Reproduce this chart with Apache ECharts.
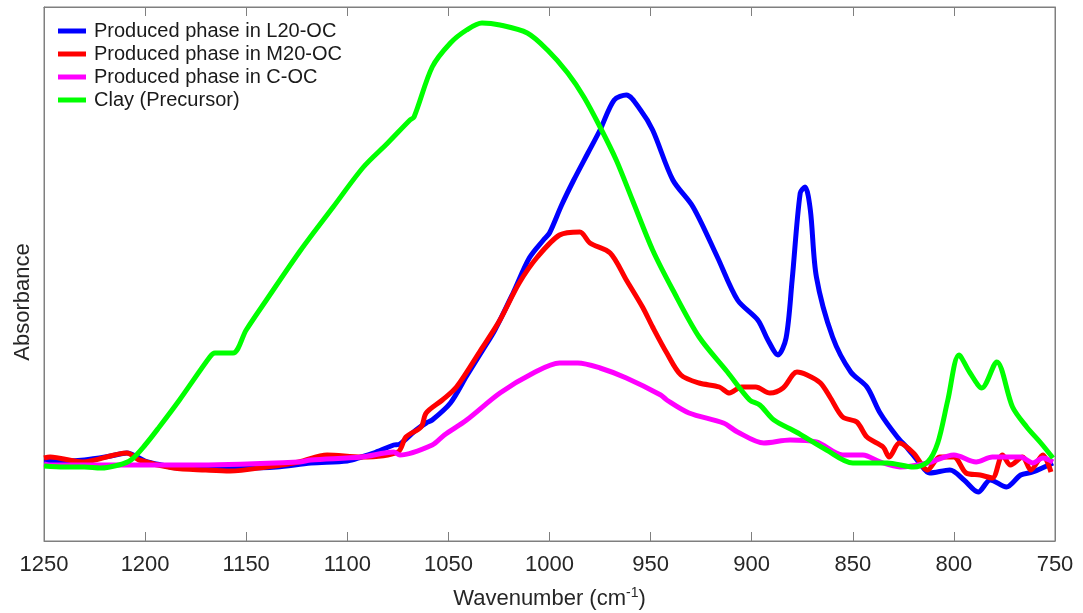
<!DOCTYPE html>
<html>
<head>
<meta charset="utf-8">
<script src="https://cdn.jsdelivr.net/npm/echarts@6/dist/echarts.min.js"></script>
<style>
html,body{margin:0;padding:0;background:#fff;}
#chart{width:1083px;height:613px;}
</style>
</head>
<body>
<div id="chart"></div>
<script>
// ---- data (wavenumber in cm^-1, absorbance in arbitrary units) ----
const seriesNames = ['Produced phase in L20-OC', 'Produced phase in M20-OC', 'Produced phase in C-OC', 'Clay (Precursor)'];
const seriesColors = ['#0000ff', '#ff0000', '#ff00ff', '#00ff00'];

const l20Wn  = [1250,1240,1230,1217,1209,1200,1192,1184,1170,1151,1135,1118,1100,1093,1087,1077,1074,1066,1061,1058,1049,1041,1033,1027,1018,1010,1003,1000,994,988,981,975,968,962,955,949,939,929,917,907,897,892,887,883,880,876,873.6,871,868,860,851,843,836.5,828,823,817,812,802,795,788,782,774,767,761,751];
const l20Abs = [0.80,0.80,0.81,0.85,0.88,0.80,0.76,0.73,0.74,0.73,0.74,0.78,0.80,0.84,0.88,0.96,0.97,1.11,1.18,1.21,1.38,1.65,1.91,2.11,2.48,2.83,3.01,3.08,3.36,3.61,3.88,4.11,4.41,4.46,4.31,4.11,3.61,3.34,2.84,2.41,2.21,2.01,1.86,2.03,2.61,3.48,3.54,3.31,2.64,2.04,1.69,1.54,1.28,1.04,0.93,0.78,0.68,0.71,0.61,0.49,0.61,0.54,0.66,0.69,0.78];

const m20Wn  = [1250,1247,1231,1209,1203,1186,1170,1158,1140,1124,1110,1093,1075,1071,1063.5,1061,1053,1046,1034,1024.5,1015,1006,995,985,980,970,962,954,949,942,935,926,916,911,905,898,891,884.5,877.6,872.6,866,861,855,848,843,835,832,827,820,813,807,800,794,787,781,776,772,766,762,756,752];
const m20Abs = [0.83,0.84,0.79,0.88,0.81,0.73,0.71,0.70,0.74,0.79,0.86,0.84,0.89,1.04,1.14,1.28,1.41,1.54,1.91,2.21,2.58,2.84,3.06,3.09,2.98,2.88,2.61,2.34,2.14,1.88,1.66,1.58,1.54,1.48,1.54,1.54,1.48,1.53,1.69,1.66,1.58,1.43,1.24,1.19,1.04,0.94,0.84,0.98,0.88,0.71,0.84,0.84,0.68,0.66,0.63,0.86,0.76,0.84,0.71,0.86,0.69];

const cocWn  = [1250,1247,1222,1206,1173,1124,1118,1093,1077,1074,1058,1052,1041,1024.5,1008,995,986,975,962,945,942,931,914,907,894,881,868,855,845,836.5,826.6,813,800,789,781,767,761,756,751];
const cocAbs = [0.77,0.76,0.76,0.76,0.76,0.79,0.81,0.84,0.89,0.86,0.96,1.06,1.21,1.48,1.68,1.78,1.78,1.73,1.63,1.46,1.41,1.28,1.18,1.09,0.98,1.01,0.99,0.86,0.86,0.79,0.74,0.78,0.86,0.79,0.84,0.84,0.78,0.83,0.79];

const clayWn  = [1250,1240,1230,1222,1213,1207,1200,1193,1183,1168,1165.5,1156.5,1150,1140,1123,1107,1092,1080,1069,1067,1058,1049,1041,1033.4,1024.5,1011,1001,991,983,975,967,959,949,939,926,912,901,896,889,878,863,850,833,820,813,808,803,797.5,792,786.2,778.8,771,764,757,751];
const clayAbs = [0.75,0.74,0.74,0.73,0.76,0.81,0.96,1.14,1.41,1.84,1.88,1.88,2.11,2.41,2.91,3.34,3.74,3.98,4.21,4.24,4.74,4.98,5.11,5.18,5.16,5.08,4.91,4.68,4.44,4.14,3.81,3.41,2.91,2.51,2.04,1.69,1.41,1.36,1.21,1.09,0.91,0.78,0.78,0.74,0.79,0.98,1.41,1.86,1.68,1.53,1.79,1.34,1.14,0.98,0.83];

const xTicks = [1250,1200,1150,1100,1050,1000,950,900,850,800,750];

// ---- build ----
function pairs(wn, ab){ return wn.map((w,i)=>[w, ab[i]]); }
const allData = [pairs(l20Wn,l20Abs), pairs(m20Wn,m20Abs), pairs(cocWn,cocAbs), pairs(clayWn,clayAbs)];

const FONT = 'Liberation Sans, Arial, sans-serif';
const chart = echarts.init(document.getElementById('chart'), null, {renderer:'canvas'});
const frame = '#7f7f7f';

const xCommon = {
  type:'value', min:750, max:1250, interval:50, inverse:true,
  axisLine:{show:true, onZero:false, lineStyle:{color:frame, width:1}},
  axisTick:{show:true, inside:true, length:9, lineStyle:{color:frame, width:1}},
  splitLine:{show:false}
};

chart.setOption({
  animation:false,
  backgroundColor:'#ffffff',
  grid:{left:44, right:28, top:7, bottom:72, show:true, borderColor:frame, borderWidth:1,
        containLabel:false, outerBoundsMode:'none'},
  legend:{
    show:true, orient:'vertical', left:58, top:21, padding:0, itemGap:3,
    itemWidth:28, itemHeight:5, icon:'rect',
    textStyle:{fontFamily:FONT, fontSize:20, color:'#1a1a1a', padding:[0,0,0,3]},
    data:seriesNames
  },
  xAxis:[
    Object.assign({}, xCommon, {
      position:'bottom',
      axisLabel:{show:true, margin:13, fontFamily:FONT, fontSize:22, color:'#262626',
        formatter:(v)=> xTicks.includes(v) ? String(v) : ''},
      name:'Wavenumber (cm{sup|-1})', nameLocation:'middle', nameGap:45,
      nameTextStyle:{fontFamily:FONT, fontSize:22, color:'#262626',
        rich:{sup:{fontFamily:FONT, fontSize:14, color:'#262626', padding:[0,0,12,0]}}}
    }),
    Object.assign({}, xCommon, {position:'top', axisLabel:{show:false}})
  ],
  yAxis:[
    {type:'value', min:0, max:5.34, position:'left',
     axisLine:{show:true, lineStyle:{color:frame}}, axisTick:{show:false}, axisLabel:{show:false},
     splitLine:{show:false},
     name:'Absorbance', nameLocation:'middle', nameGap:10, nameRotate:90,
     nameTextStyle:{fontFamily:FONT, fontSize:22, color:'#262626', padding:[0,56,0,0]}},
    {type:'value', min:0, max:5.34, position:'right',
     axisLine:{show:true, lineStyle:{color:frame}}, axisTick:{show:false}, axisLabel:{show:false},
     splitLine:{show:false}}
  ],
  series: allData.map((d,i)=>({
    name:seriesNames[i], type:'line', data:d, xAxisIndex:0, yAxisIndex:0,
    showSymbol:false, symbol:'none', smooth:0.3,
    lineStyle:{color:seriesColors[i], width:5},
    itemStyle:{color:seriesColors[i]},
    z:2+i
  }))
});
</script>
</body>
</html>
